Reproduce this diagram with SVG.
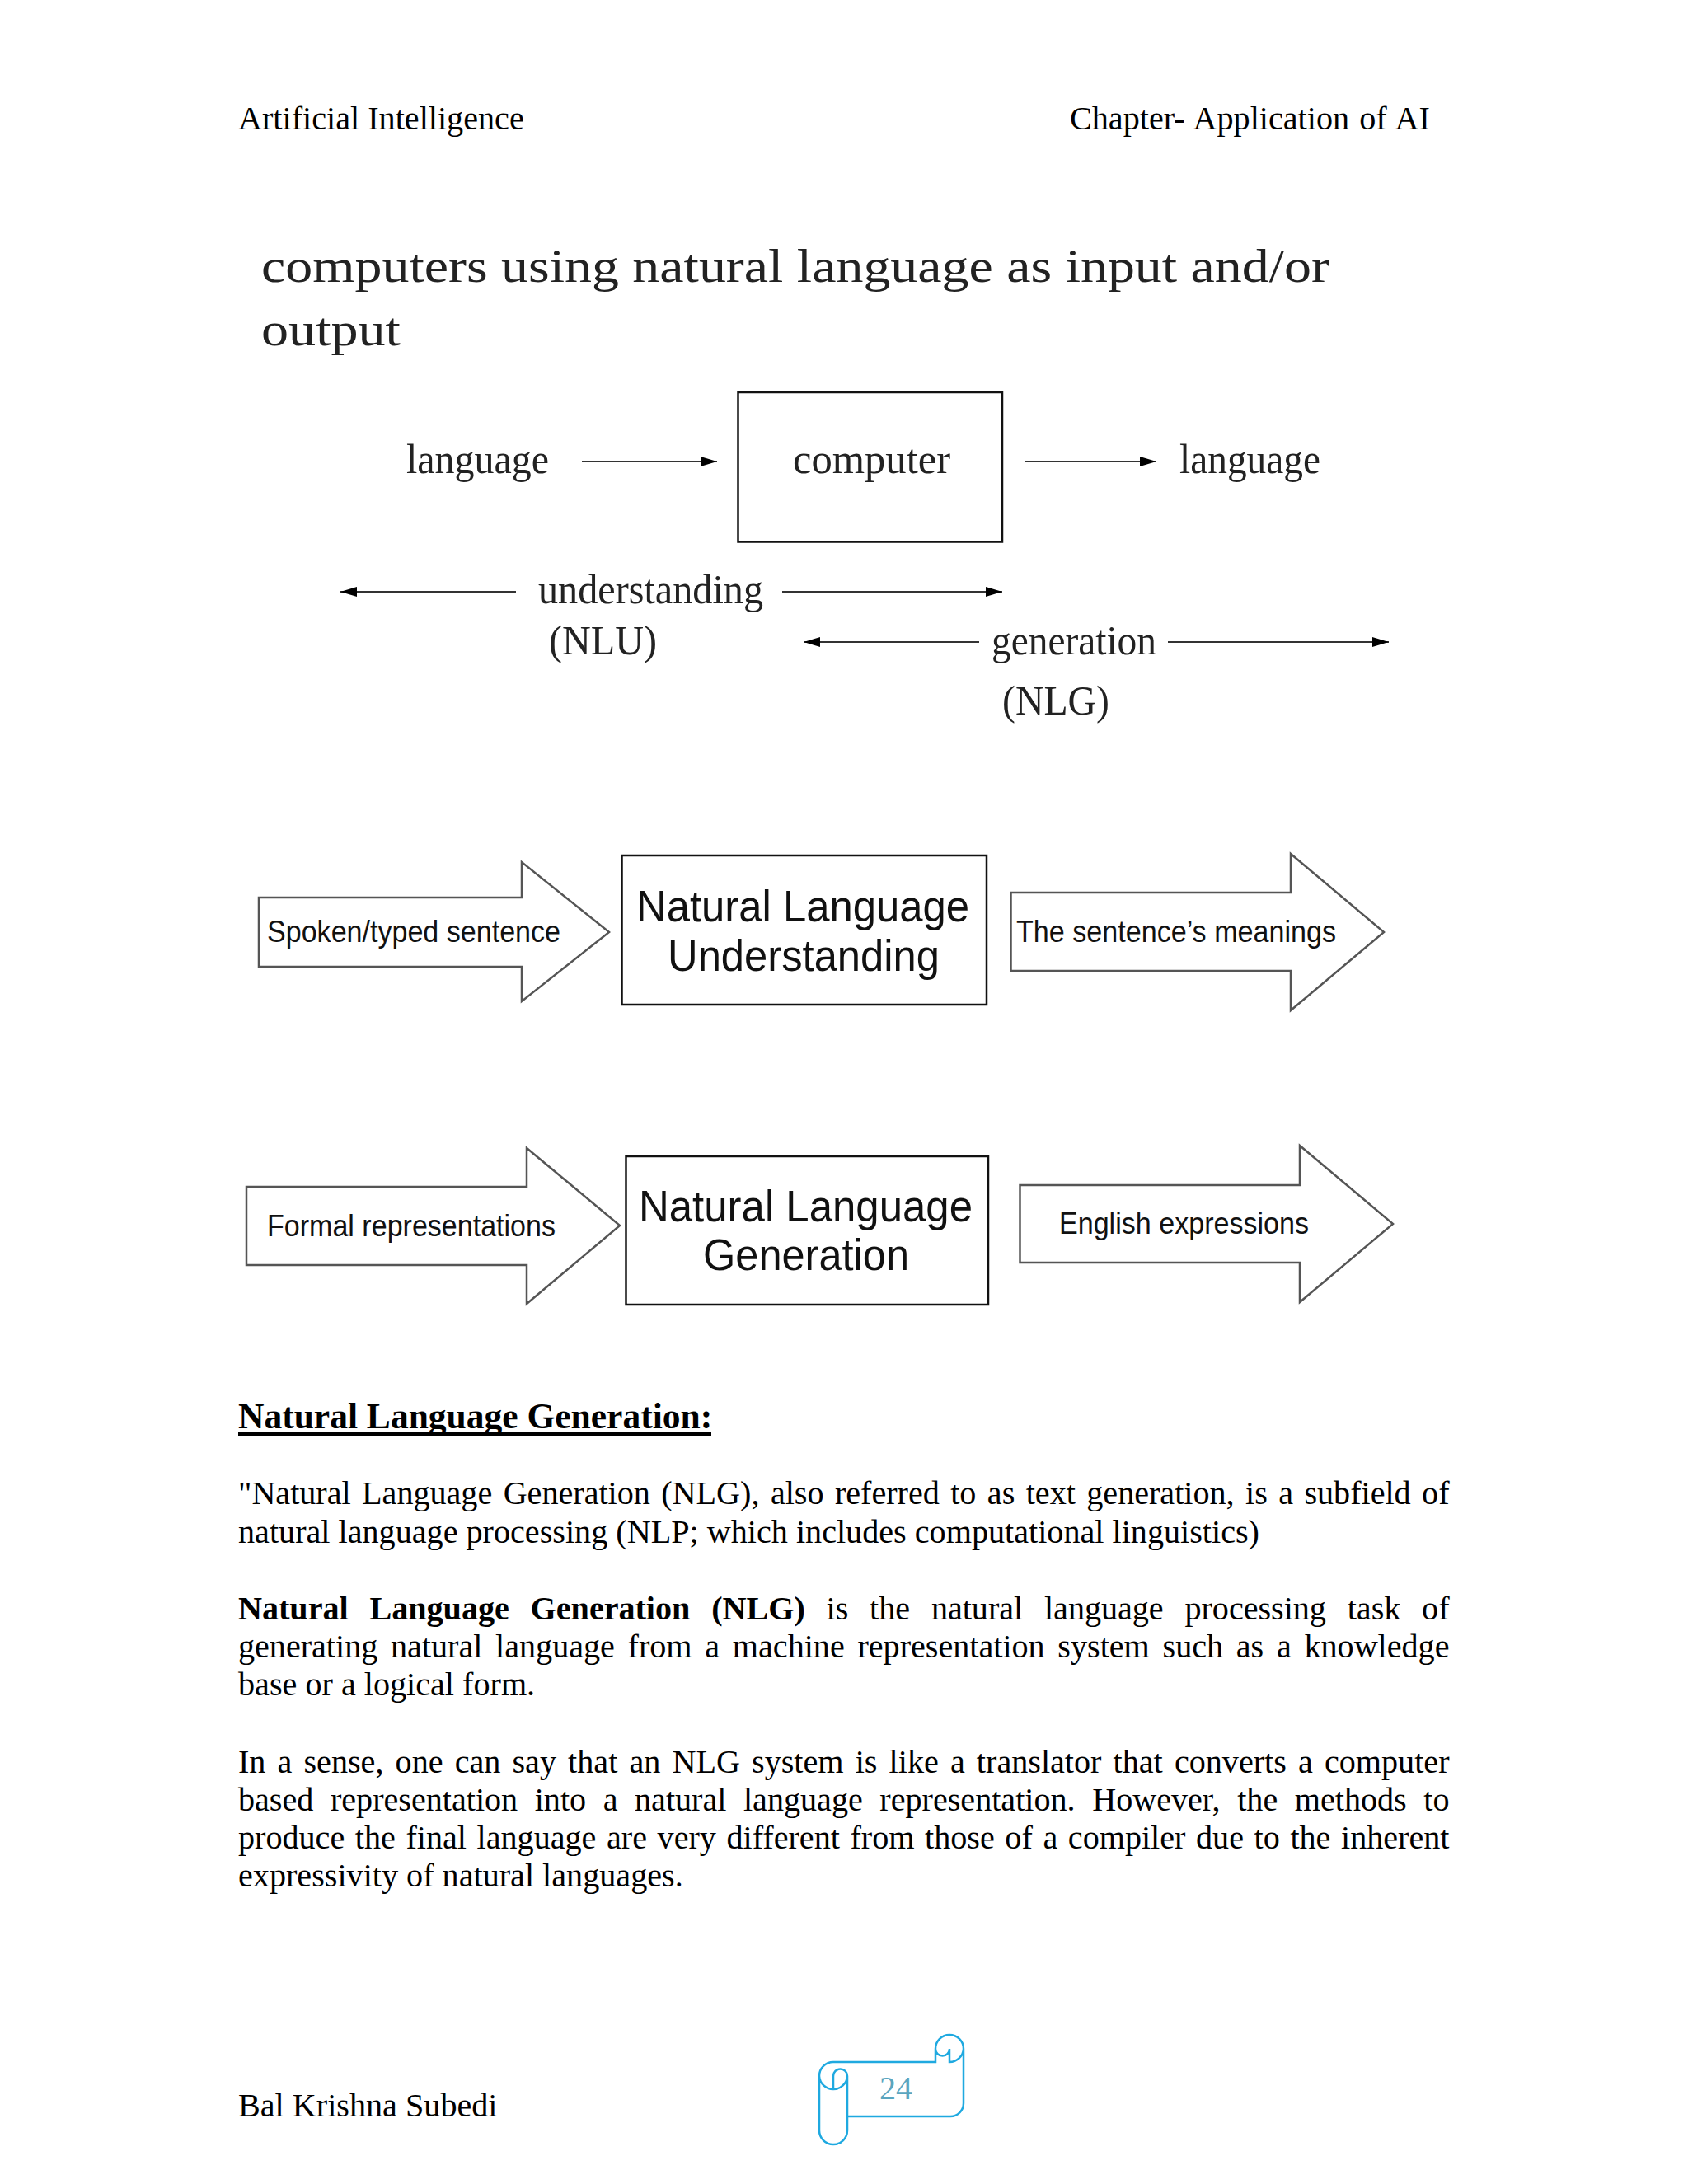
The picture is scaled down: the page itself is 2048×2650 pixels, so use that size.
<svg xmlns="http://www.w3.org/2000/svg" width="2048" height="2650" viewBox="0 0 2048 2650">
<defs>
<style>
text{font-family:"Liberation Serif","Times New Roman",serif;fill:#000}
.b{font-size:40.17px}
.d{font-size:50px;fill:#222}
.t{font-size:58px;fill:#222}
.s{font-family:"Liberation Sans",Arial,sans-serif;fill:#111}
.box{fill:#fff;stroke:#111;stroke-width:2.5}
.big{fill:#fff;stroke:#555;stroke-width:2.5}
.c{stroke:#333;stroke-width:2;fill:none}
.scroll{fill:none;stroke:#1fa9e0;stroke-width:2.5}
</style>
<marker id="ah" viewBox="0 0 10 6" refX="10" refY="3" markerUnits="userSpaceOnUse" markerWidth="26" markerHeight="12" orient="auto-start-reverse"><path d="M0,0L10,3L0,6Z" fill="#000"/></marker>
</defs>
<rect width="2048" height="2650" fill="#fff"/>
<g id="header">
<text class="b" x="289" y="157">Artificial Intelligence</text>
<text class="b" x="1298" y="157" word-spacing="2">Chapter- Application of AI</text>
</g>
<g id="title">
<text class="t" x="317" y="342" textLength="1296" lengthAdjust="spacingAndGlyphs">computers using natural language as input and/or</text>
<text class="t" x="317" y="419" textLength="169" lengthAdjust="spacingAndGlyphs">output</text>
</g>
<g id="connectors">
<line class="c" x1="706" y1="560" x2="870" y2="560" marker-end="url(#ah)"/>
<line class="c" x1="1243" y1="560" x2="1403" y2="560" marker-end="url(#ah)"/>
<line class="c" x1="626" y1="718" x2="413" y2="718" marker-end="url(#ah)"/>
<line class="c" x1="949" y1="718" x2="1216" y2="718" marker-end="url(#ah)"/>
<line class="c" x1="1188" y1="779" x2="975" y2="779" marker-end="url(#ah)"/>
<line class="c" x1="1417" y1="779" x2="1685" y2="779" marker-end="url(#ah)"/>
</g>
<g id="lang-in"><text class="d" x="493" y="574" textLength="173" lengthAdjust="spacingAndGlyphs">language</text></g>
<g id="computer"><rect class="box" x="895.5" y="476" width="320.5" height="181.5"/><text class="d" x="962" y="574" textLength="191" lengthAdjust="spacingAndGlyphs">computer</text></g>
<g id="lang-out"><text class="d" x="1431" y="574" textLength="171" lengthAdjust="spacingAndGlyphs">language</text></g>
<g id="understanding"><text class="d" x="653" y="732" textLength="273" lengthAdjust="spacingAndGlyphs">understanding</text><text class="d" x="666" y="794" textLength="131" lengthAdjust="spacingAndGlyphs">(NLU)</text></g>
<g id="generation"><text class="d" x="1203" y="794" textLength="200" lengthAdjust="spacingAndGlyphs">generation</text><text class="d" x="1216" y="867" textLength="130" lengthAdjust="spacingAndGlyphs">(NLG)</text></g>
<g id="arrow-spoken"><path class="big" d="M314,1089H633V1046L739,1131L633,1215V1173H314Z"/><text class="s" x="324" y="1143" font-size="37" textLength="356" lengthAdjust="spacingAndGlyphs">Spoken/typed sentence</text></g>
<g id="box-nlu"><rect class="box" x="754.5" y="1038" width="442.5" height="181"/><text class="s" x="772" y="1118" font-size="53" textLength="404" lengthAdjust="spacingAndGlyphs">Natural Language</text><text class="s" x="810" y="1178" font-size="53" textLength="330" lengthAdjust="spacingAndGlyphs">Understanding</text></g>
<g id="arrow-meanings"><path class="big" d="M1226.5,1083H1566V1036L1679,1131L1566,1226V1178H1226.5Z"/><text class="s" x="1233" y="1143" font-size="37" textLength="388" lengthAdjust="spacingAndGlyphs">The sentence’s meanings</text></g>
<g id="arrow-formal"><path class="big" d="M299,1440H639V1393L752,1487L639,1582V1535H299Z"/><text class="s" x="324" y="1500" font-size="37" textLength="350" lengthAdjust="spacingAndGlyphs">Formal representations</text></g>
<g id="box-nlg"><rect class="box" x="759.5" y="1403" width="439.5" height="180"/><text class="s" x="775" y="1482" font-size="53" textLength="405" lengthAdjust="spacingAndGlyphs">Natural Language</text><text class="s" x="853" y="1541" font-size="53" textLength="250" lengthAdjust="spacingAndGlyphs">Generation</text></g>
<g id="arrow-english"><path class="big" d="M1237.5,1438H1577V1390L1690,1485L1577,1580V1532H1237.5Z"/><text class="s" x="1285" y="1497" font-size="37" textLength="303" lengthAdjust="spacingAndGlyphs">English expressions</text></g>
<g id="body">
<text x="289" y="1733" font-weight="bold" style="font-size:43.5px">Natural Language Generation:</text>
<rect x="289" y="1738" width="574" height="4.5" fill="#000"/>
<text class="b" x="289" y="1825" word-spacing="3.4" textLength="1469.5">"Natural Language Generation (NLG), also referred to as text generation, is a subfield of</text>
<text class="b" x="289" y="1871.5">natural language processing (NLP; which includes computational linguistics)</text>
<text class="b" x="289" y="1965" word-spacing="15.8" textLength="1469.5"><tspan font-weight="bold">Natural Language Generation (NLG)</tspan> is the natural language processing task of</text>
<text class="b" x="289" y="2011" word-spacing="5.7" textLength="1469.5">generating natural language from a machine representation system such as a knowledge</text>
<text class="b" x="289" y="2057">base or a logical form.</text>
<text class="b" x="289" y="2151" word-spacing="4.1" textLength="1469.5">In a sense, one can say that an NLG system is like a translator that converts a computer</text>
<text class="b" x="289" y="2197" word-spacing="10.5" textLength="1469.5">based representation into a natural language representation. However, the methods to</text>
<text class="b" x="289" y="2243" word-spacing="2.6" textLength="1469.5">produce the final language are very different from those of a compiler due to the inherent</text>
<text class="b" x="289" y="2289">expressivity of natural languages.</text>
</g>
<g id="footer">
<text class="b" x="289" y="2568">Bal Krishna Subedi</text>
</g>
<g id="page-number">
<path class="scroll" d="M1028,2568H1153A16,16 0 0 0 1169,2552V2486A17,17 0 0 0 1135,2486V2502H1011A17,17 0 0 0 994,2519V2585A17,17 0 0 0 1028,2585V2519A8.5,8.5 0 0 0 1011,2519V2535A17,17 0 0 0 1028,2519M1169,2486A17,17 0 0 1 1152,2502V2486A8.5,8.5 0 0 1 1135,2486M994,2519A17,17 0 0 0 1011,2535"/>
<text class="b" x="1067" y="2547" style="fill:#5aa5bf">24</text>
</g>
</svg>
